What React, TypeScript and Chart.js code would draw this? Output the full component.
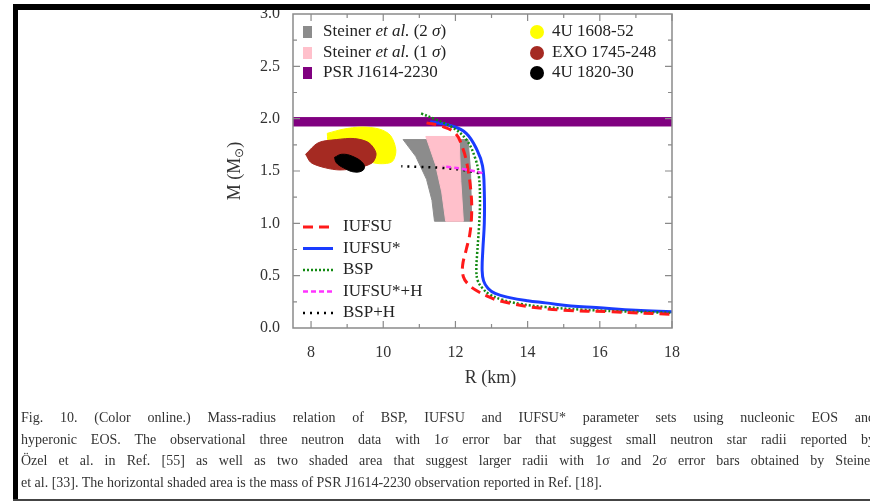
import { useEffect, useRef } from "react";
import { Chart, registerables } from "chart.js";
Chart.register(...registerables);

// ---- axes ----
const X_TICKS = [8, 10, 12, 14, 16, 18];
const X_MINOR_TICKS = [8, 9, 10, 11, 12, 13, 14, 15, 16, 17, 18];
const Y_TICKS = [0, 0.5, 1, 1.5, 2, 2.5, 3];
const Y_MINOR_TICKS = [0.25, 0.5, 0.75, 1, 1.25, 1.5, 1.75, 2, 2.25, 2.5, 2.75];

// ---- mass-radius curves (R in km, M in solar masses) ----
const IUFSU_R = [11.2, 11.6, 12.0, 12.2, 12.33, 12.43, 12.45, 12.4, 12.3, 12.2, 12.22, 12.35, 12.57, 12.85, 13.12, 13.6, 14.1, 15.0, 16.3, 18.0];
const IUFSU_M = [1.96, 1.93, 1.86, 1.72, 1.55, 1.3, 1.1, 0.9, 0.75, 0.6, 0.49, 0.42, 0.36, 0.31, 0.27, 0.23, 0.2, 0.17, 0.155, 0.13];

const IUFSUS_R = [11.3, 11.9, 12.3, 12.6, 12.75, 12.8, 12.8, 12.76, 12.74, 12.78, 12.9, 13.1, 13.5, 14.0, 14.5, 15.2, 15.9, 17.0, 18.0];
const IUFSUS_M = [1.97, 1.93, 1.86, 1.7, 1.55, 1.3, 1.0, 0.75, 0.55, 0.45, 0.38, 0.33, 0.29, 0.26, 0.24, 0.21, 0.195, 0.17, 0.155];

const BSP_R = [11.05, 11.4, 11.9, 12.3, 12.55, 12.65, 12.68, 12.65, 12.6, 12.58, 12.62, 12.75, 12.95, 13.3, 13.8, 14.5, 15.5, 16.5, 18.0];
const BSP_M = [2.05, 2.0, 1.92, 1.8, 1.62, 1.45, 1.2, 0.95, 0.7, 0.55, 0.45, 0.38, 0.32, 0.27, 0.23, 0.2, 0.175, 0.16, 0.145];

const IUFSUSH_R = [12.75, 12.5, 12.2, 11.9, 11.65];
const IUFSUSH_M = [1.48, 1.5, 1.52, 1.535, 1.545];

const BSPH_R = [12.65, 12.2, 11.6, 11.0, 10.5];
const BSPH_M = [1.48, 1.51, 1.53, 1.54, 1.545];

// ---- observational regions ----
const STEINER2_R = [10.55, 10.9, 11.2, 11.35, 11.42, 12.45, 12.42, 12.35, 10.55];
const STEINER2_M = [1.8, 1.64, 1.42, 1.22, 1.02, 1.02, 1.5, 1.8, 1.8];
const STEINER1_R = [11.18, 11.45, 11.62, 11.73, 12.22, 12.15, 12.1, 11.18];
const STEINER1_M = [1.83, 1.56, 1.3, 1.02, 1.02, 1.4, 1.83, 1.83];

const U1608_R = [8.45, 8.9, 9.4, 9.9, 10.2, 10.35, 10.25, 9.9, 9.5, 9.0, 8.5, 8.45];
const U1608_M = [1.86, 1.9, 1.92, 1.9, 1.84, 1.7, 1.59, 1.57, 1.6, 1.68, 1.75, 1.86];
const EXO_R = [7.85, 8.2, 8.7, 9.2, 9.6, 9.8, 9.7, 9.3, 8.8, 8.4, 8.0, 7.85];
const EXO_M = [1.66, 1.77, 1.8, 1.81, 1.77, 1.67, 1.58, 1.53, 1.51, 1.53, 1.58, 1.66];
const U1820_R = [8.65, 8.85, 9.15, 9.45, 9.45, 9.2, 8.9, 8.7, 8.65];
const U1820_M = [1.63, 1.66, 1.64, 1.57, 1.51, 1.49, 1.53, 1.58, 1.63];

const PSR_R = [7.5, 18, 18, 7.5, 7.5];
const PSR_M = [2.01, 2.01, 1.93, 1.93, 2.01];

// ---- legend texts ----
const AREA_LABELS = [
  ["Steiner ", "et al.", " (2 ", "σ", ")"],
  ["Steiner ", "et al.", " (1 ", "σ", ")"],
  ["PSR J1614-2230"],
];
const AREA_COLORS = ["#8c8c8c", "#ffc0cb", "#800080"];
const STAR_LABELS = ["4U 1608-52", "EXO 1745-248", "4U 1820-30"];
const STAR_COLORS = ["#ffff00", "#a52a22", "#000000"];
const CURVE_LABELS = ["IUFSU", "IUFSU*", "BSP", "IUFSU*+H", "BSP+H"];

const CAPTION = [
  "Fig. 10. (Color online.) Mass-radius relation of BSP, IUFSU and IUFSU* parameter sets using nucleonic EOS and",
  "hyperonic EOS. The observational three neutron data with 1σ error bar that suggest small neutron star radii reported by",
  "Özel et al. in Ref. [55] as well as two shaded area that suggest larger radii with 1σ and 2σ error bars obtained by Steiner",
  "et al. [33]. The horizontal shaded area is the mass of PSR J1614-2230 observation reported in Ref. [18].",
];

const pts = (R: number[], M: number[]) => R.map((r, i) => ({ x: r, y: M[i] }));
const SERIF = '"Liberation Serif", "Times New Roman", serif';

const curveStyles = [
  { color: "#ff1a1a", width: 3, dash: [10, 6] },
  { color: "#1a3cff", width: 3, dash: [] as number[] },
  { color: "#138a13", width: 2.5, dash: [2, 2] },
  { color: "#ff33ff", width: 2.5, dash: [5, 3] },
  { color: "#000000", width: 2.5, dash: [2, 5] },
];

const decorPlugin = {
  id: "decor",
  afterDatasetsDraw(chart: any) {
    const { ctx, chartArea: a, scales } = chart;
    const xs = scales.x, ys = scales.y;
    ctx.save();
    // frame
    ctx.strokeStyle = "#8a8a8a";
    ctx.lineWidth = 1.5;
    ctx.setLineDash([]);
    ctx.strokeRect(a.left, a.top, a.right - a.left, a.bottom - a.top);
    // inward ticks
    ctx.lineWidth = 1.2;
    ctx.beginPath();
    for (const v of X_MINOR_TICKS) {
      const px = xs.getPixelForValue(v);
      const len = v % 2 === 0 ? 7 : 4;
      ctx.moveTo(px, a.bottom); ctx.lineTo(px, a.bottom - len);
      ctx.moveTo(px, a.top); ctx.lineTo(px, a.top + len);
    }
    for (const v of Y_MINOR_TICKS) {
      const py = ys.getPixelForValue(v);
      const len = (v * 2) % 1 === 0 ? 7 : 4;
      ctx.moveTo(a.left, py); ctx.lineTo(a.left + len, py);
      ctx.moveTo(a.right, py); ctx.lineTo(a.right - len, py);
    }
    ctx.stroke();

    ctx.textBaseline = "middle";
    ctx.fillStyle = "#222";
    // area legend
    const rowY = [a.top + 18, a.top + 39, a.top + 59];
    AREA_LABELS.forEach((segs, i) => {
      ctx.fillStyle = AREA_COLORS[i];
      ctx.fillRect(a.left + 10, rowY[i] - 6, 9, 12);
      let cx = a.left + 30;
      ctx.fillStyle = "#222";
      segs.forEach((s, j) => {
        ctx.font = `${j % 2 ? "italic " : ""}17px ${SERIF}`;
        ctx.fillText(s, cx, rowY[i]);
        cx += ctx.measureText(s).width;
      });
    });
    STAR_LABELS.forEach((s, i) => {
      ctx.fillStyle = STAR_COLORS[i];
      ctx.beginPath();
      ctx.arc(a.left + 244, rowY[i], 7, 0, Math.PI * 2);
      ctx.fill();
      ctx.fillStyle = "#222";
      ctx.font = `17px ${SERIF}`;
      ctx.fillText(s, a.left + 259, rowY[i]);
    });
    // curve legend
    CURVE_LABELS.forEach((s, i) => {
      const y = a.bottom - 101 + i * 21.5;
      const st = curveStyles[i];
      ctx.strokeStyle = st.color;
      ctx.lineWidth = st.width;
      ctx.setLineDash(st.dash);
      ctx.beginPath();
      ctx.moveTo(a.left + 10, y); ctx.lineTo(a.left + 40, y);
      ctx.stroke();
      ctx.setLineDash([]);
      ctx.fillStyle = "#222";
      ctx.font = `17px ${SERIF}`;
      ctx.fillText(s, a.left + 50, y);
    });
    // x title
    ctx.textAlign = "center";
    ctx.font = `18px ${SERIF}`;
    ctx.fillStyle = "#333";
    ctx.fillText("R (km)", (a.left + a.right) / 2 + 8, a.bottom + 50);
    // y title
    ctx.translate(235, (a.top + a.bottom) / 2);
    ctx.rotate(-Math.PI / 2);
    ctx.textAlign = "left";
    ctx.font = `18px ${SERIF}`;
    const t1 = "M (M", t2 = "⊙", t3 = ")";
    const w1 = ctx.measureText(t1).width;
    ctx.font = `12px ${SERIF}`;
    const w2 = ctx.measureText(t2).width;
    ctx.font = `18px ${SERIF}`;
    const w3 = ctx.measureText(t3).width;
    let sx = -(w1 + w2 + w3) / 2;
    ctx.fillText(t1, sx, 0); sx += w1;
    ctx.font = `12px ${SERIF}`;
    ctx.fillText(t2, sx, 5); sx += w2;
    ctx.font = `18px ${SERIF}`;
    ctx.fillText(t3, sx, 0);
    ctx.restore();
  },
};

export default function App() {
  const ref = useRef<HTMLCanvasElement>(null);
  useEffect(() => {
    const line = (R: number[], M: number[], i: number) => ({
      data: pts(R, M),
      borderColor: curveStyles[i].color,
      borderWidth: curveStyles[i].width,
      borderDash: curveStyles[i].dash,
      fill: false,
      tension: 0.4,
      pointRadius: 0,
    });
    const shape = (R: number[], M: number[], color: string, tension: number) => ({
      data: pts(R, M),
      borderColor: color,
      backgroundColor: color,
      borderWidth: 1,
      fill: "shape",
      tension,
      pointRadius: 0,
    });
    const chart = new Chart(ref.current!, {
      type: "line",
      data: {
        datasets: [
          line(IUFSUSH_R, IUFSUSH_M, 3),
          line(BSPH_R, BSPH_M, 4),
          line(IUFSU_R, IUFSU_M, 0),
          line(BSP_R, BSP_M, 2),
          line(IUFSUS_R, IUFSUS_M, 1),
          shape(STEINER1_R, STEINER1_M, "#ffc0cb", 0),
          shape(STEINER2_R, STEINER2_M, "#8c8c8c", 0),
          shape(U1820_R, U1820_M, "#000000", 0.4),
          shape(EXO_R, EXO_M, "#a52a22", 0.3),
          shape(U1608_R, U1608_M, "#ffff00", 0.3),
          shape(PSR_R, PSR_M, "#800080", 0),
        ] as any,
      },
      options: {
        responsive: false,
        maintainAspectRatio: false,
        animation: false,
        devicePixelRatio: 1,
        layout: { padding: { left: 233, right: 198, top: 14, bottom: 123 } },
        plugins: { legend: { display: false }, tooltip: { enabled: false } },
        scales: {
          x: {
            type: "linear",
            min: 7.5,
            max: 18,
            grid: { display: false, drawTicks: false },
            border: { display: false },
            afterBuildTicks: (s: any) => { s.ticks = X_TICKS.map((v) => ({ value: v })); },
            afterFit: (s: any) => { s.height = 50; s.paddingLeft = 0; s.paddingRight = 0; },
            ticks: { font: { family: SERIF, size: 16 }, color: "#333", padding: 15, maxRotation: 0, autoSkip: false },
          },
          y: {
            type: "linear",
            min: 0,
            max: 3,
            grid: { display: false, drawTicks: false },
            border: { display: false },
            afterBuildTicks: (s: any) => { s.ticks = Y_TICKS.map((v) => ({ value: v })); },
            afterFit: (s: any) => { s.width = 60; s.paddingTop = 0; s.paddingBottom = 0; },
            ticks: {
              font: { family: SERIF, size: 16 },
              color: "#333",
              padding: 13,
              autoSkip: false,
              callback: (v: any) => Number(v).toFixed(1),
            },
          },
        },
      } as any,
      plugins: [decorPlugin],
    });
    return () => chart.destroy();
  }, []);

  return (
    <div style={{ position: "fixed", left: 0, top: 0, width: 870, height: 501, overflow: "hidden", background: "#fff" }}>
      <canvas ref={ref} width={870} height={501} style={{ position: "absolute", left: 0, top: 0, width: 870, height: 501 }} />
      <div style={{ position: "absolute", left: 13, top: 4, right: 0, height: 6, background: "#000" }} />
      <div style={{ position: "absolute", left: 13, top: 4, bottom: 0, width: 5, background: "#000" }} />
      <div style={{ position: "absolute", left: 13, bottom: 0, right: 0, height: 2, background: "#444" }} />
      <div style={{ position: "absolute", left: 21, top: 407, width: 854, fontFamily: SERIF, fontSize: 14, lineHeight: "21.5px", color: "#333" }}>
        {CAPTION.map((t, i) => (
          <div
            key={i}
            style={{
              whiteSpace: "nowrap",
              textAlign: i < 3 ? "justify" : "left",
              textAlignLast: i < 3 ? "justify" : "left",
              display: "block",
              width: "100%",
            }}
          >
            {t}
          </div>
        ))}
      </div>
    </div>
  );
}
